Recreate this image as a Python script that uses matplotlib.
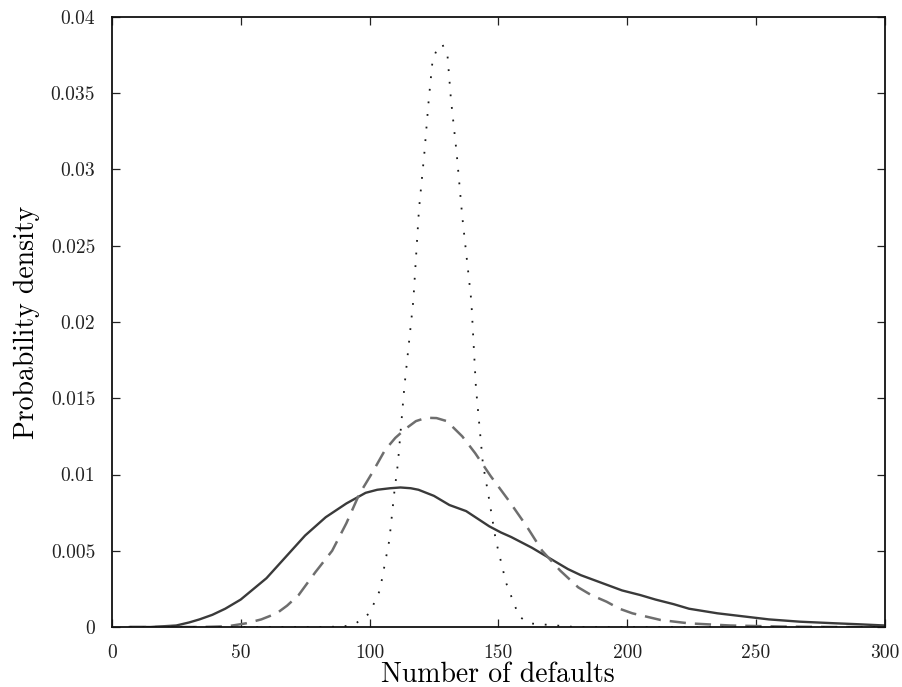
import numpy as np
import matplotlib
matplotlib.use("Agg")
import matplotlib.pyplot as plt

# font like the LaTeX original
plt.rcParams['font.family'] = ['cmr10', 'DejaVu Serif']
plt.rcParams['mathtext.fontset'] = 'cm'
plt.rcParams['axes.formatter.use_mathtext'] = True

# solid curve
x_solid = [7, 15, 25, 30, 34, 39, 44, 50, 55, 60, 67.5, 75, 83, 91, 98.5, 103, 108, 112,
           116, 119, 122, 125, 131, 137.5, 142, 146.5, 151, 155, 163, 172, 177, 182,
           190, 198, 205, 211, 218, 224, 235, 245, 255, 267, 280, 290, 300]
y_solid = [0, 0, 0.0001, 0.0003, 0.0005, 0.0008, 0.0012, 0.0018, 0.0025, 0.0032, 0.0046,
           0.0060, 0.0072, 0.0081, 0.0088, 0.0090, 0.0091, 0.00915, 0.0091, 0.0090,
           0.0088, 0.0086, 0.0080, 0.0076, 0.0071, 0.0066, 0.0062, 0.0059, 0.0052,
           0.0043, 0.0038, 0.0034, 0.0029, 0.0024, 0.0021, 0.0018, 0.0015, 0.0012,
           0.0009, 0.0007, 0.0005, 0.00035, 0.00025, 0.00018, 0.0001]

# dashed curve
x_dash = [7, 20, 35, 45, 52, 58, 64, 68, 72.5, 79, 85.5, 91, 96, 101, 106, 110, 114, 118,
          122, 126, 130, 133, 136, 141, 147, 154, 161, 167, 174, 181, 186, 192, 197,
          202, 213, 224, 240, 260, 280, 300]
y_dash = [0, 0, 0, 0.00005, 0.00024, 0.0005, 0.0009, 0.0014, 0.0021, 0.0036, 0.0050,
          0.0068, 0.0087, 0.0101, 0.0116, 0.0124, 0.0130, 0.01350, 0.01372, 0.01370,
          0.0135, 0.0130, 0.0125, 0.0114, 0.0099, 0.0083, 0.0066, 0.0050, 0.0037,
          0.0026, 0.0021, 0.00166, 0.0012, 0.0009, 0.00046, 0.00024, 0.0001,
          0.00003, 0, 0]

# dotted curve
x_dot = [7, 30, 60, 80, 90, 94.7, 100, 104, 107.7, 109.6, 111, 113.5, 117, 119.2, 121.3,
         123, 124.5, 126.5, 128.3, 130.3, 131.6, 133.8, 136, 139.5, 141.3, 144, 146, 149,
         153, 158, 162, 180, 220, 260, 300]
y_dot = [0, 0, 0, 0, 0.00003, 0.00024, 0.0009, 0.0024, 0.0057, 0.0088, 0.0107, 0.0157,
         0.0214, 0.0274, 0.0311, 0.0346, 0.0372, 0.0380, 0.0382, 0.0374, 0.0346, 0.0311,
         0.0269, 0.0214, 0.0157, 0.0107, 0.0088, 0.0057, 0.0029, 0.0007, 0.00024, 0, 0,
         0, 0]

x_ticks = [0, 50, 100, 150, 200, 250, 300]
y_ticks = [0, 0.005, 0.01, 0.015, 0.02, 0.025, 0.03, 0.035, 0.04]
y_labels = ['0', '0.005', '0.01', '0.015', '0.02', '0.025', '0.03', '0.035', '0.04']

fig = plt.figure(figsize=(9.02, 6.87), dpi=100)
ax = fig.add_axes([0.124, 0.0873, 0.857, 0.888])

ax.plot(x_solid, y_solid, color='#3a3a3a', lw=1.7, solid_joinstyle='round')
ax.plot(x_dash, y_dash, color='#6e6e6e', lw=1.8, linestyle=(0, (6.5, 3.6)))
ax.plot(x_dot, y_dot, color='#1a1a1a', lw=1.3, linestyle=(0, (1.0, 6.0)))

ax.set_xlim(0, 300)
ax.set_ylim(0, 0.04)
ax.set_xticks(x_ticks)
ax.set_xticklabels([str(v) for v in x_ticks])
ax.set_yticks(y_ticks)
ax.set_yticklabels(y_labels)

ax.tick_params(direction='in', length=6, width=0.9, top=True, right=True,
               labelsize=14, pad=12, colors='#222222')
for s in ax.spines.values():
    s.set_linewidth(1.3)
    s.set_color('#111111')

ax.set_xlabel('Number of defaults', fontsize=20, labelpad=0)
ax.set_ylabel('Probability density', fontsize=20, labelpad=8)

fig.savefig('out.png', dpi=100)
